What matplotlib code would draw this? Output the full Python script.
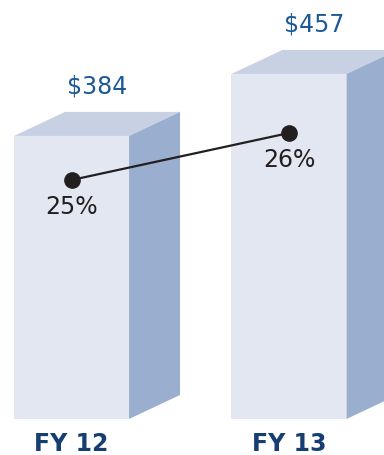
import matplotlib.pyplot as plt
from matplotlib.patches import Polygon

# data
years = ["FY 12", "FY 13"]
values = [384, 457]
pct = [25, 26]

fig = plt.figure(figsize=(3.84, 4.55), dpi=100)
ax = fig.add_axes([0, 0, 1, 1])
ax.set_xlim(-0.329, 1.437)
ax.set_ylim(8.2, 544.1)
ax.axis('off')

base = 50.6     # value where the bars start
width = 0.529   # front face width
dx = 0.2345     # depth of the 3d box
dy = 28.3

x = list(range(len(years)))
# front faces
ax.bar(x, [v - base for v in values], width, bottom=base, color='#e3e7f1', zorder=1)
for i, v in zip(x, values):
    l = i - width / 2
    r = i + width / 2
    # top face and side face
    ax.add_patch(Polygon([(l, v), (r, v), (r + dx, v + dy), (l + dx, v + dy)],
                         closed=True, color='#c8d1e4', lw=0, zorder=1))
    ax.add_patch(Polygon([(r, base), (r + dx, base + dy), (r + dx, v + dy), (r, v)],
                         closed=True, color='#9aaecf', lw=0, zorder=1))
    ax.annotate("$%d" % v, (i + dx / 2, v + dy), xytext=(0, 18), textcoords='offset points',
                ha='center', va='center', fontsize=17, color='#1c5a97')
    ax.annotate(years[i], (i, base), xytext=(0, -17.8), textcoords='offset points',
                ha='center', va='center', fontsize=17, fontweight='bold', color='#163e72')

# percentage line on its own scale
ax2 = ax.twinx()
ax2.set_ylim(19.149, 28.83)
ax2.axis('off')
ax2.plot(x, pct, color='#231f20', lw=1.6, marker='o', markersize=11, zorder=3)
for i, p in zip(x, pct):
    ax2.annotate("%d%%" % p, (i, p), xytext=(0, -19.6), textcoords='offset points',
                 ha='center', va='center', fontsize=17, color='#231f20')

fig.savefig("out.png", dpi=100)
